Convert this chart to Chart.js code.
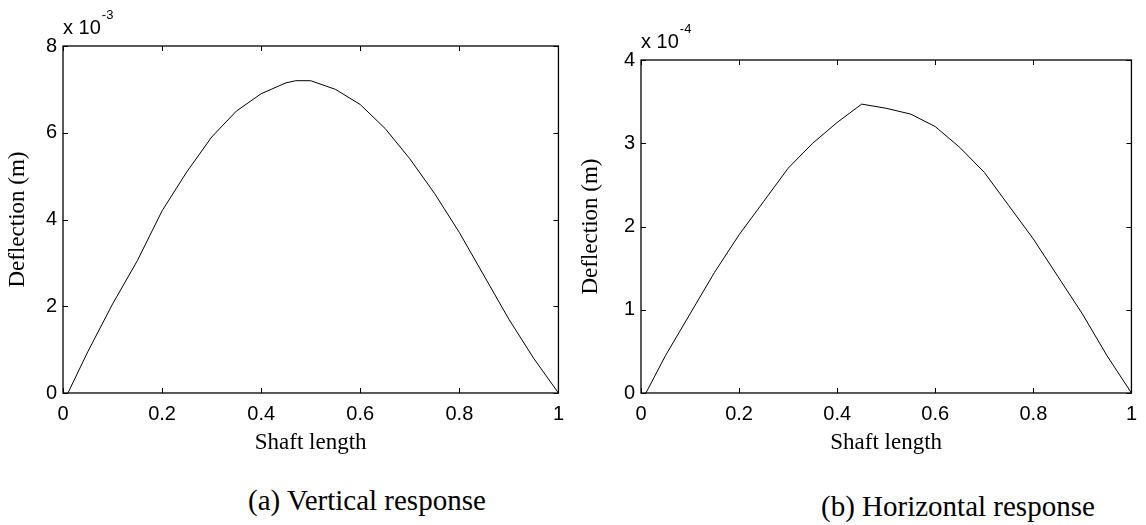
<!DOCTYPE html>
<html>
<head>
<meta charset="utf-8">
<script src="https://cdn.jsdelivr.net/npm/chart.js@4/dist/chart.umd.min.js"></script>
<style>
  body { margin: 0; background: #fff; width: 1146px; height: 525px; position: relative; overflow: hidden; }
  .panel { position: absolute; top: 0; width: 573px; height: 460px; }
  .caption { position: absolute; font-family: "Liberation Serif", "Times New Roman", serif; font-size: 29px; color: #000; white-space: nowrap; line-height: 1; }
</style>
</head>
<body>
<div class="panel" style="left:0"><canvas id="vertChart"></canvas></div>
<div class="panel" style="left:573px"><canvas id="horizChart"></canvas></div>
<div class="caption" style="left:248px;top:486px">(a) Vertical response</div>
<div class="caption" style="left:821px;top:492px">(b) Horizontal response</div>
<script>
// position along the shaft (normalised)
const vertPos = [0.01, 0.05, 0.1, 0.15, 0.2, 0.25, 0.3, 0.35, 0.4, 0.45, 0.47, 0.5, 0.55, 0.6, 0.65, 0.7, 0.75, 0.8, 0.85, 0.9, 0.95, 1.0];
// vertical deflection, x 10^-3 m
const vertDefl = [0, 0.95, 2.05, 3.05, 4.2, 5.1, 5.9, 6.5, 6.9, 7.15, 7.2, 7.2, 7.0, 6.65, 6.1, 5.4, 4.6, 3.7, 2.7, 1.7, 0.8, 0];

const horizPos = [0.01, 0.05, 0.1, 0.15, 0.2, 0.25, 0.3, 0.35, 0.4, 0.45, 0.5, 0.55, 0.6, 0.65, 0.7, 0.75, 0.8, 0.85, 0.9, 0.95, 1.0];
// horizontal deflection, x 10^-4 m
const horizDefl = [0, 0.45, 0.95, 1.45, 1.9, 2.3, 2.7, 3.0, 3.25, 3.47, 3.42, 3.35, 3.2, 2.95, 2.65, 2.25, 1.85, 1.4, 0.95, 0.45, 0];

const xTicks = [0, 0.2, 0.4, 0.6, 0.8, 1];
const vertTicks = [0, 2, 4, 6, 8];
const horizTicks = [0, 1, 2, 3, 4];

const sans = 'Liberation Sans, Arial, sans-serif';
const serif = 'Liberation Serif, Times New Roman, serif';

// boxed axes with inward ticks on all four sides plus the exponent label
const frame = {
  id: 'frame',
  afterDraw(chart, args, opts) {
    const { ctx, chartArea: a, scales } = chart;
    ctx.save();
    ctx.strokeStyle = '#000';
    ctx.lineWidth = 1.3;
    ctx.strokeRect(a.left, a.top, a.right - a.left, a.bottom - a.top);
    ctx.lineWidth = 1;
    ctx.beginPath();
    scales.x.ticks.forEach(t => {
      const px = Math.round(scales.x.getPixelForValue(t.value)) + 0.5;
      ctx.moveTo(px, a.bottom); ctx.lineTo(px, a.bottom - 5);
      ctx.moveTo(px, a.top); ctx.lineTo(px, a.top + 5);
    });
    scales.y.ticks.forEach(t => {
      const py = Math.round(scales.y.getPixelForValue(t.value)) + 0.5;
      ctx.moveTo(a.left, py); ctx.lineTo(a.left + 5, py);
      ctx.moveTo(a.right, py); ctx.lineTo(a.right - 5, py);
    });
    ctx.stroke();

    ctx.fillStyle = '#000';
    ctx.textBaseline = 'middle';
    ctx.font = '20px ' + sans;
    ctx.fillText('x 10', a.left, a.top - 18);
    const w = ctx.measureText('x 10').width;
    ctx.font = '13px ' + sans;
    ctx.fillText(opts.exp, a.left + w + 1, a.top - 31);
    ctx.restore();
  }
};

function makeChart(id, xs, ys, yTicks, yMax, exp, yWidth, padTop, padRight) {
  const points = xs.map((x, i) => ({ x: x, y: ys[i] }));
  return new Chart(document.getElementById(id), {
    type: 'scatter',
    data: {
      datasets: [{
        data: points,
        showLine: true,
        borderColor: '#000',
        borderWidth: 1,
        pointRadius: 0,
        tension: 0
      }]
    },
    options: {
      responsive: true,
      maintainAspectRatio: false,
      animation: false,
      layout: { padding: { top: padTop, right: padRight, left: 0, bottom: 0 } },
      plugins: {
        legend: { display: false },
        tooltip: { enabled: false },
        frame: { exp: exp }
      },
      scales: {
        x: {
          type: 'linear',
          min: 0,
          max: 1,
          afterBuildTicks: s => { s.ticks = xTicks.map(v => ({ value: v })); },
          afterFit: s => { s.height = 67; },
          grid: { display: false, drawTicks: false },
          border: { display: false },
          ticks: { color: '#000', font: { family: sans, size: 20 }, padding: 9, maxRotation: 0, callback: v => String(v) },
          title: { display: true, text: 'Shaft length', color: '#000', font: { family: serif, size: 23 }, padding: { top: 0, bottom: 3 } }
        },
        y: {
          type: 'linear',
          min: 0,
          max: yMax,
          afterBuildTicks: s => { s.ticks = yTicks.map(v => ({ value: v })); },
          afterFit: s => { s.width = yWidth; },
          grid: { display: false, drawTicks: false },
          border: { display: false },
          ticks: { color: '#000', font: { family: sans, size: 20 }, padding: 6, callback: v => String(v) },
          title: { display: true, text: 'Deflection (m)', color: '#000', font: { family: serif, size: 23 }, padding: { top: 4, bottom: 0 } }
        }
      }
    },
    plugins: [frame]
  });
}

makeChart('vertChart', vertPos, vertDefl, vertTicks, 8, '-3', 63, 46, 10);
makeChart('horizChart', horizPos, horizDefl, horizTicks, 4, '-4', 68, 60, 13);
</script>
</body>
</html>
